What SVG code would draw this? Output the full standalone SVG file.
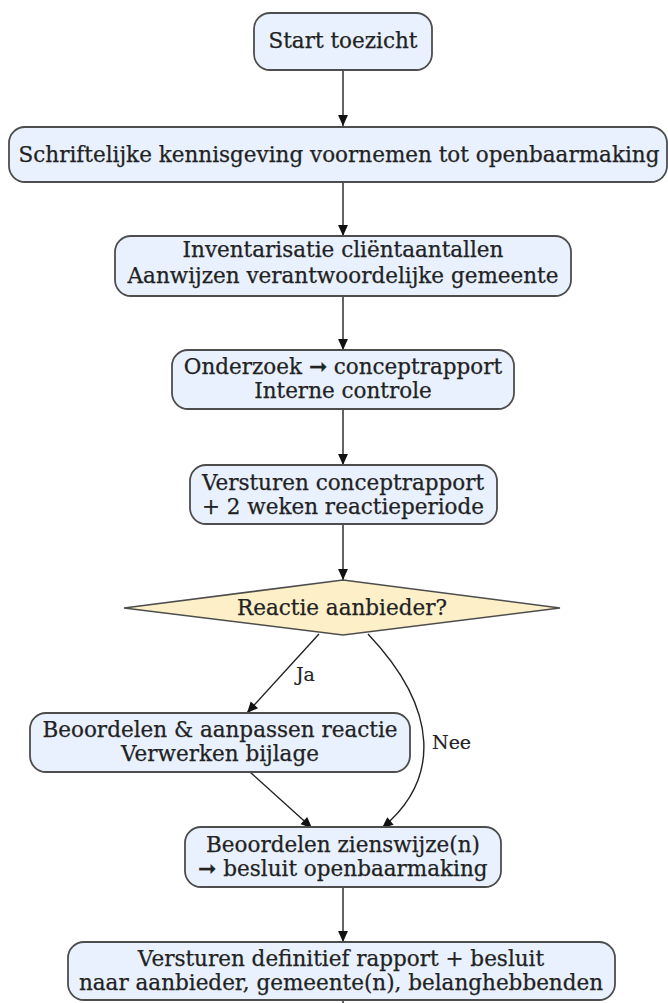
<svg xmlns="http://www.w3.org/2000/svg" width="668" height="1003" viewBox="0 0 668 1003">
<defs>
<marker id="ah" viewBox="0 0 10 10" refX="10" refY="5" markerWidth="14" markerHeight="11" markerUnits="userSpaceOnUse" orient="auto">
<path d="M0,0.5 L10,5 L0,9.5 Z" fill="#111"/>
</marker>
<style>
.box{fill:#e8f1fd;stroke:#4d4d4d;stroke-width:1.8}
.dia{fill:#fdf0c8;stroke:#4d4d4d;stroke-width:1.6}
.t{font-family:"DejaVu Serif",serif;font-size:21.5px;fill:#222;stroke:#222;stroke-width:0.25;text-anchor:middle}
.l{font-family:"DejaVu Serif",serif;font-size:19px;fill:#222;stroke:#222;stroke-width:0.2}
.e{fill:none;stroke:#222;stroke-width:1.4;marker-end:url(#ah)}
</style>
</defs>
<rect width="668" height="1003" fill="#fff"/>
<g id="edges">
<path class="e" d="M343,70 L343,126"/>
<path class="e" d="M343,182 L343,236"/>
<path class="e" d="M343,296 L343,350"/>
<path class="e" d="M343,409 L343,465"/>
<path class="e" d="M343,524 L343,580"/>
<path class="e" d="M319,634 L247,713"/>
<path class="e" d="M368,634 C440,710 440,780 382,828"/>
<path class="e" d="M250,772 L312,828"/>
<path class="e" d="M343,887 L343,942"/>
<path d="M343,1000 L343,1003" stroke="#222" stroke-width="1.4"/>
<text class="l" x="296" y="681">Ja</text>
<text class="l" x="432" y="749">Nee</text>
</g>
<g id="n1"><rect class="box" x="254" y="13" width="178" height="57" rx="16"/><text class="t" x="343" y="48">Start toezicht</text></g>
<g id="n2"><rect class="box" x="9" y="127" width="658" height="55" rx="16"/><text class="t" x="339" y="162">Schriftelijke kennisgeving voornemen tot openbaarmaking</text></g>
<g id="n3"><rect class="box" x="115" y="236" width="456" height="60" rx="16"/><text class="t" x="343" y="257">Inventarisatie cliëntaantallen</text><text class="t" x="343" y="283">Aanwijzen verantwoordelijke gemeente</text></g>
<g id="n4"><rect class="box" x="172" y="350" width="342" height="59" rx="16"/><text class="t" x="343" y="374">Onderzoek ➞ conceptrapport</text><text class="t" x="343" y="398">Interne controle</text></g>
<g id="n5"><rect class="box" x="190" y="465" width="307" height="59" rx="16"/><text class="t" x="343" y="490">Versturen conceptrapport</text><text class="t" x="343" y="514">+ 2 weken reactieperiode</text></g>
<g id="n6"><polygon class="dia" points="343,580 560,608 343,635 124,608"/><text class="t" x="342" y="615">Reactie aanbieder?</text></g>
<g id="n7"><rect class="box" x="30" y="713" width="380" height="59" rx="16"/><text class="t" x="220" y="737">Beoordelen &amp; aanpassen reactie</text><text class="t" x="220" y="761">Verwerken bijlage</text></g>
<g id="n8"><rect class="box" x="185" y="827" width="316" height="60" rx="16"/><text class="t" x="343" y="852">Beoordelen zienswijze(n)</text><text class="t" x="343" y="876">➞ besluit openbaarmaking</text></g>
<g id="n9"><rect class="box" x="68" y="942" width="547" height="58" rx="16"/><text class="t" x="341" y="966">Versturen definitief rapport + besluit</text><text class="t" x="341" y="990">naar aanbieder, gemeente(n), belanghebbenden</text></g>
</svg>
